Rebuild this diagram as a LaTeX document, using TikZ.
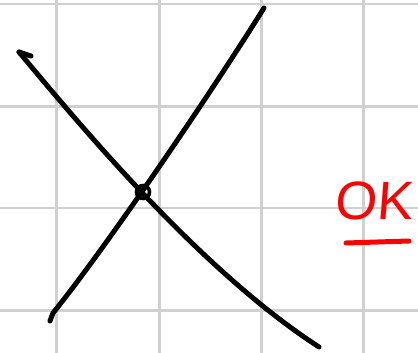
\documentclass[tikz,border=0pt]{standalone}
\usepackage{fontspec}
\newfontfamily\handfont{Liberation Sans}
\definecolor{gridgray}{RGB}{208,208,208}
\definecolor{inkred}{RGB}{255,0,0}
\begin{document}
\begin{tikzpicture}[x=1pt,y=-1pt,
  gridline/.style={draw=gridgray,line width=2.2pt},
  ink/.style={draw=black,line width=5pt,line cap=round,line join=round},
  redink/.style={draw=inkred,line width=5pt,line cap=round},
  oklabel/.style={text=inkred,font=\handfont\fontsize{54}{54}\selectfont,inner sep=0pt,xslant=0.08}]
\useasboundingbox (0,0) rectangle (418,353);
\fill[white] (0,0) rectangle (418,353);
% grid
\foreach \x in {56.5,159.5,261.5,363.5} \draw[gridline] (\x,0) -- (\x,353);
\foreach \y in {4,106.5,208,310.5} \draw[gridline] (0,\y) -- (418,\y);
% rising curve
\coordinate (riseA) at (50,321);
\coordinate (riseB) at (264,8);
\draw[ink] (riseA) -- (53,313) .. controls (100,255) and (200,110) .. (riseB);
% descending curve
\coordinate (fallA) at (19,52);
\coordinate (fallB) at (319,347);
\draw[ink] (fallA) .. controls (80,125) and (200,270) .. (fallB);
\coordinate (hookB) at (31,56);
\draw[ink] (fallA) -- (hookB);
% small loop at crossing
\node[draw=black,line width=3.6pt,circle,minimum size=13pt,inner sep=0pt] (cross) at (143,192) {};
% OK
\node[oklabel,anchor=base west] (ok) at (334,219) {OK};
\coordinate (ulA) at (346,243);
\coordinate (ulB) at (409,241);
\draw[redink] (ulA) -- (ulB);
\end{tikzpicture}
\end{document}
